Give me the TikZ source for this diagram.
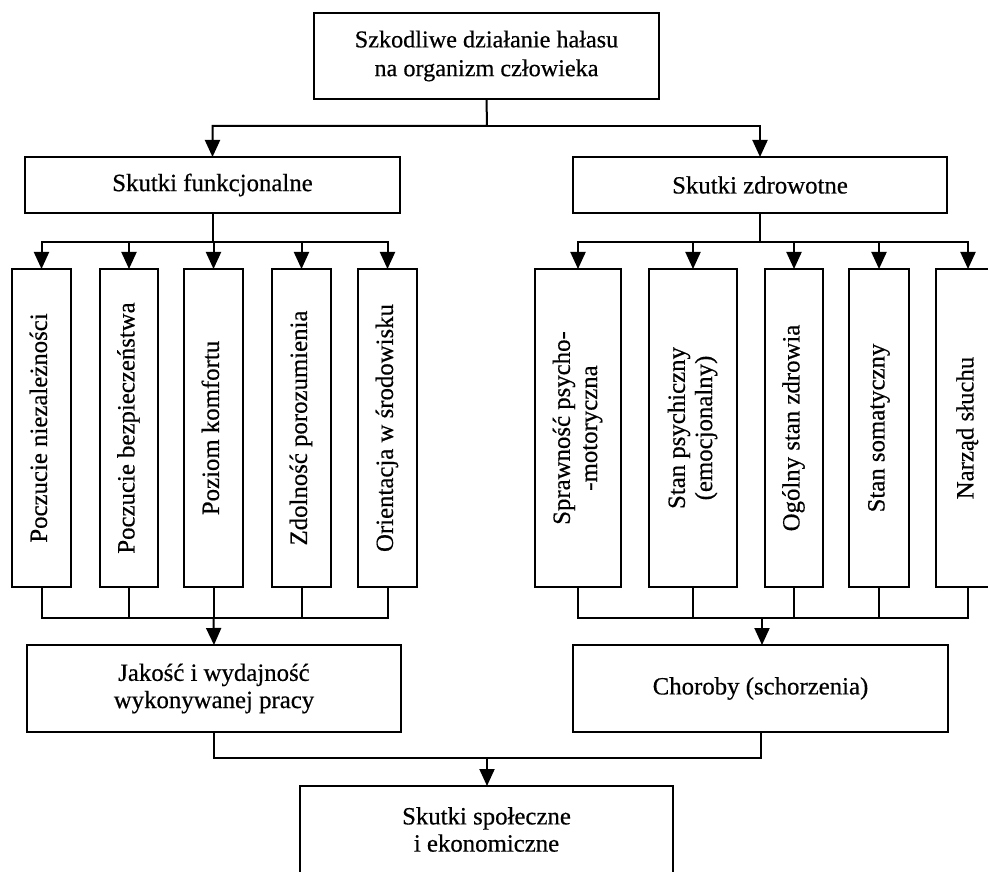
\documentclass[tikz,border=0pt]{standalone}
\usepackage{fontspec}
\setmainfont[UprightFeatures={FakeBold=0.5}]{Liberation Serif}
\usetikzlibrary{arrows.meta}

\newcommand{\pion}[1]{\rotatebox{90}{\begin{tabular}{@{}c@{}}#1\end{tabular}}}

\tikzset{
  box/.style={draw, line width=1pt, inner sep=0pt, outer sep=0pt, align=center,
    font=\fontsize{12.4}{13.6}\selectfont},
  arr/.style={-{Triangle[length=8.5pt,width=7.5pt]}},
  conn/.style={line width=1pt}
}

\begin{document}
\begin{tikzpicture}[x=0.5pt, y=-0.5pt]
  % jednostka: 1 piksel obrazu
  \def\u{0.5pt}
  \useasboundingbox (0,0) rectangle (988,871);

  % glowny blok
  \node[box, minimum width=345*\u, minimum height=86*\u, font=\fontsize{12.1}{14.4}\selectfont]
    (top) at (486.5,56) {Szkodliwe działanie hałasu\\na organizm człowieka};

  % dwie galezie skutkow
  \node[box, minimum width=375*\u, minimum height=56*\u] (func) at (212.5,185) {Skutki funkcjonalne};
  \node[box, minimum width=374*\u, minimum height=56*\u] (zdr) at (760,185) {Skutki zdrowotne};

  % skutki funkcjonalne -- pionowe bloki
  \node[box, minimum width=59*\u, minimum height=318*\u] (f1) at (41.5,428) {\pion{Poczucie niezależności}};
  \node[box, minimum width=58*\u, minimum height=318*\u] (f2) at (129,428) {\pion{Poczucie bezpieczeństwa}};
  \node[box, minimum width=59*\u, minimum height=318*\u] (f3) at (213.5,428) {\pion{Poziom komfortu}};
  \node[box, minimum width=59*\u, minimum height=318*\u] (f4) at (301.5,428) {\pion{Zdolność porozumienia}};
  \node[box, minimum width=59*\u, minimum height=318*\u] (f5) at (387.5,428) {\pion{Orientacja w środowisku}};

  % skutki zdrowotne -- pionowe bloki
  \node[box, minimum width=86*\u, minimum height=318*\u] (z1) at (578,428) {\pion{Sprawność psycho-\\-motoryczna}};
  \node[box, minimum width=88*\u, minimum height=318*\u] (z2) at (693,428) {\pion{Stan psychiczny\\(emocjonalny)}};
  \node[box, minimum width=58*\u, minimum height=318*\u] (z3) at (794,428) {\pion{Ogólny stan zdrowia}};
  \node[box, minimum width=60*\u, minimum height=318*\u] (z4) at (879,428) {\pion{Stan somatyczny}};
  \node[box, minimum width=64*\u, minimum height=318*\u] (z5) at (968,428) {\pion{Narząd słuchu}};

  % wyniki posrednie
  \node[box, minimum width=374*\u, minimum height=87*\u] (jak) at (214,688.5) {Jakość i wydajność\\wykonywanej pracy};
  \node[box, minimum width=375*\u, minimum height=87*\u] (chor) at (760.5,688.5) {Choroby (schorzenia)};

  % wynik koncowy
  \node[box, minimum width=373*\u, minimum height=87*\u] (spol) at (486.5,829.5) {Skutki społeczne\\i ekonomiczne};

  % punkty rozgalezien
  \coordinate (tb) at (487,126);
  \coordinate (fb) at (212.5,242);
  \coordinate (zb) at (760,242);
  \coordinate (fm) at (213.5,618);
  \coordinate (zm) at (762,618);
  \coordinate (mm) at (487,758);

  % polaczenia gorne
  \draw[conn, arr] (top.south) -- (tb) -| (func.north);
  \draw[conn, arr] (tb) -| (zdr.north);
  \foreach \n in {f1,f2,f3,f4,f5}
    \draw[conn, arr] (func.south) -- (fb) -| (\n.north);
  \foreach \n in {z1,z2,z3,z4,z5}
    \draw[conn, arr] (zdr.south) -- (zb) -| (\n.north);

  % polaczenia dolne
  \foreach \n in {f1,f2,f3,f4,f5}
    \draw[conn] (\n.south) |- (fm);
  \foreach \n in {z1,z2,z3,z4,z5}
    \draw[conn] (\n.south) |- (zm);
  \draw[conn, arr] (fm) -- (jak.north);
  \draw[conn, arr] (zm) -- (chor.north -| zm);
  \draw[conn] (jak.south) |- (mm);
  \draw[conn] (chor.south) |- (mm);
  \draw[conn, arr] (mm) -- (spol.north -| mm);
\end{tikzpicture}
\end{document}
